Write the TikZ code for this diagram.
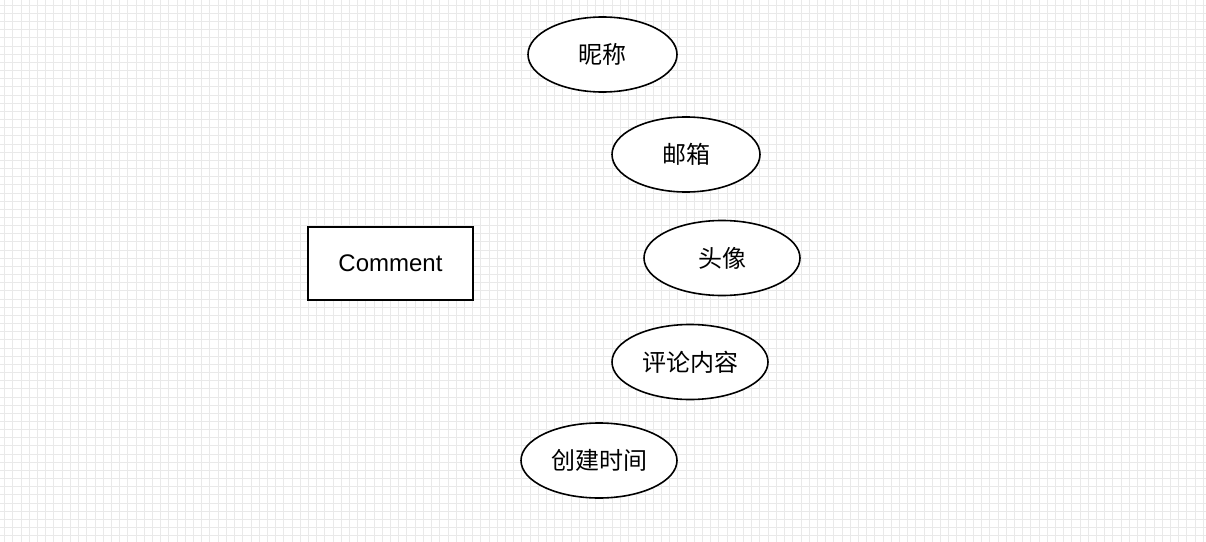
\documentclass[tikz,border=0pt]{standalone}
\usepackage{fontspec}
\setmainfont{Liberation Sans}
\newfontfamily\cjk{Noto Sans CJK SC}
\usepackage{xcolor}
\usetikzlibrary{shapes}

\definecolor{gridgray}{RGB}{233,233,233}

\begin{document}
\begin{tikzpicture}[x=0.75pt,y=0.75pt,yscale=-1,xscale=1,
  entity/.style={draw, line width=1.2pt, fill=white, inner sep=0pt, minimum width=123.75pt, minimum height=54.75pt, font=\fontsize{18}{21}\selectfont},
  attr/.style={draw, ellipse, line width=1.2pt, fill=white, inner sep=0pt, minimum height=56.25pt, font=\fontsize{18}{21}\selectfont\cjk}]
\useasboundingbox (0,0) rectangle (1206,542);
\fill[white] (0,0) rectangle (1206,542);

%Grid
\foreach \i in {0,...,146} {
  \draw[gridgray, line width=0.7pt] ({4.7+8.209*\i},0) -- ({4.7+8.209*\i},542);
}
\foreach \j in {0,...,66} {
  \draw[gridgray, line width=0.7pt] (0,{5.3+8.16*\j}) -- (1206,{5.3+8.16*\j});
}

% Entity
\node [entity] (comment) at (390.5,263.5) {Comment};

% Attributes
\node [attr, minimum width=111.75pt] (nick) at (602.5,54.5) {昵称};
\node [attr, minimum width=111pt] (mail) at (686,154.5) {邮箱};
\node [attr, minimum width=117pt] (avatar) at (722,258) {头像};
\node [attr, minimum width=117pt] (content) at (690,362) {评论内容};
\node [attr, minimum width=117pt] (created) at (599,460.5) {创建时间};

\end{tikzpicture}
\end{document}
